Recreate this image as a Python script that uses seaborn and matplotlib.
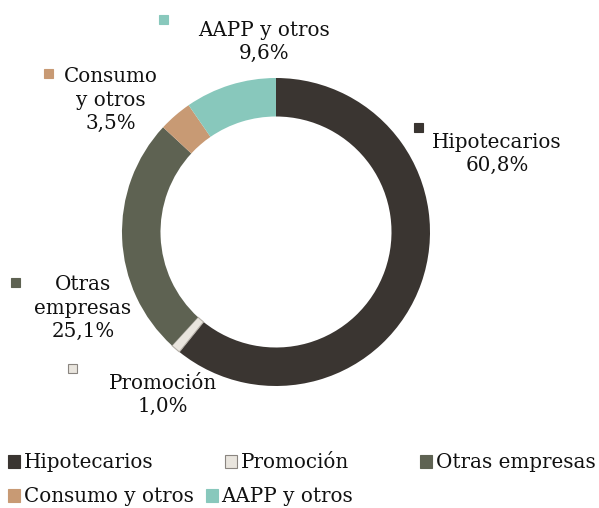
import matplotlib
matplotlib.use("Agg")
import matplotlib.pyplot as plt
import seaborn as sns
from matplotlib.patches import Rectangle

# ============================================================
# DATOS
# ============================================================

categorias = ["Hipotecarios", "Promoción", "Otras empresas",
              "Consumo y otros", "AAPP y otros"]
etiquetas_grafico = ["Hipotecarios", "Promoción", "Otras\nempresas",
                     "Consumo\ny otros", "AAPP y otros"]
porcentajes = [60.8, 1.0, 25.1, 3.5, 9.6]
colores = ["#3a3531", "#e9e5de", "#5e6252", "#c89a74", "#88c8bc"]

# posiciones (px, desde arriba-izquierda) de etiquetas y cuadraditos
W, H = 599, 508
pos_texto = [(497, 154), (163, 395), (83, 308), (111, 100), (264, 42)]
pos_cuadro = [(418, 127), (72, 368), (15, 282), (48, 73), (163, 19)]


def fx(x):
    return x / W


def fy(y):
    return 1 - y / H


sns.set_theme(style="white")
plt.rcParams["font.family"] = ["DejaVu Serif", "DejaVu Sans"]

fig = plt.figure(figsize=(W / 100, H / 100), dpi=100)

# donut: centro (276, 232), radio 154 px
cx, cy, r = 276, 232, 154
ax = fig.add_axes([fx(cx - r), fy(cy + r), 2 * r / W, 2 * r / H])
wedges, _ = ax.pie(porcentajes, colors=colores, startangle=90,
                   counterclock=False, radius=1,
                   wedgeprops=dict(width=0.25, linewidth=0))
wedges[1].set_edgecolor("#b5b0a8")
wedges[1].set_linewidth(0.8)
ax.set_xlim(-1, 1)
ax.set_ylim(-1, 1)
ax.set_aspect("equal")
ax.axis("off")

# etiquetas de datos
for nombre, pct, (tx, ty), (sx, sy), col in zip(
        etiquetas_grafico, porcentajes, pos_texto, pos_cuadro, colores):
    txt = f"{nombre}\n{pct:.1f}".replace(".", ",") + "%"
    fig.text(fx(tx), fy(ty), txt, ha="center", va="center",
             fontsize=14.3, color="#111111", linespacing=1.3)
    s = 9
    fig.patches.append(Rectangle((fx(sx - s / 2), fy(sy + s / 2)), s / W, s / H,
                                 transform=fig.transFigure, facecolor=col,
                                 edgecolor="#8a8580" if col == colores[1] else col,
                                 linewidth=0.8))

# leyenda en dos filas
handles = [Rectangle((0, 0), 1, 1, facecolor=c,
                     edgecolor="#8a8580" if c == colores[1] else c, linewidth=0.8)
           for c in colores]
kw = dict(frameon=False, fontsize=14.3, handlelength=0.6, handleheight=0.6,
          handletextpad=0.2, borderpad=0, borderaxespad=0,
          labelcolor="#111111")
fig.legend(handles[:3], categorias[:3], loc="center left", ncol=3,
           bbox_to_anchor=(fx(8), fy(463), fx(596) - fx(8), 0), mode="expand",
           columnspacing=2.0, **kw)
fig.legend(handles[3:], categorias[3:], loc="center left", ncol=2,
           bbox_to_anchor=(fx(8), fy(497)), columnspacing=0.6, **kw)

plt.savefig("out.png", dpi=100)
plt.close()
